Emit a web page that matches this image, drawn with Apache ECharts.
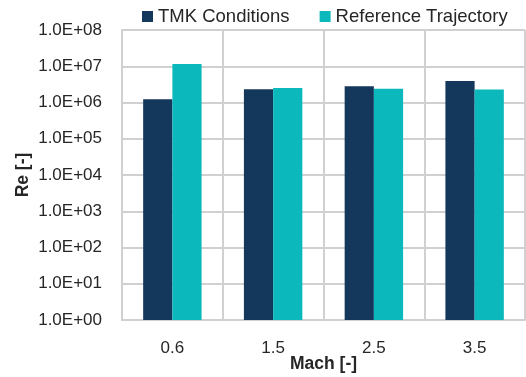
<!DOCTYPE html>
<html>
<head>
<meta charset="utf-8">
<style>
  html, body { margin: 0; padding: 0; background: #ffffff; }
  #chart { width: 526px; height: 377px; }
</style>
<script src="https://cdn.jsdelivr.net/npm/echarts@6/dist/echarts.min.js"></script>
</head>
<body>
<div id="chart"></div>
<script>
// Mach numbers of the test points
const machCategories = ['0.6', '1.5', '2.5', '3.5'];
// Reynolds numbers per Mach number
const tmkConditions = [1.22e6, 2.31e6, 2.8e6, 3.92e6];
const referenceTrajectory = [1.15e7, 2.5e6, 2.4e6, 2.3e6];
// Decade tick labels of the logarithmic Re axis (index = exponent)
const reTickLabels = ['1.0E+00', '1.0E+01', '1.0E+02', '1.0E+03', '1.0E+04',
                      '1.0E+05', '1.0E+06', '1.0E+07', '1.0E+08'];

const FONT = 'Liberation Sans';
const TEXT = '#262626';
const GRID = '#d0d0d0';

const chart = echarts.init(document.getElementById('chart'), null, { renderer: 'canvas' });

chart.setOption({
  backgroundColor: '#ffffff',
  animation: false,
  textStyle: { fontFamily: FONT, color: TEXT },
  legend: {
    top: 2,
    left: 137,
    itemWidth: 11,
    itemHeight: 11,
    itemGap: 30,
    icon: 'rect',
    textStyle: { fontFamily: FONT, fontSize: 18.5, color: TEXT, padding: [0, 0, 0, 0] },
    data: ['TMK Conditions', 'Reference Trajectory']
  },
  grid: { left: 122, right: 1, top: 30, bottom: 57, outerBoundsMode: 'none', containLabel: false },
  xAxis: {
    type: 'category',
    data: machCategories,
    name: 'Mach [-]',
    nameLocation: 'middle',
    nameGap: 35,
    nameMoveOverlap: false,
    nameTextStyle: { fontFamily: FONT, fontSize: 17.5, fontWeight: 'bold', color: TEXT },
    axisLine: { show: true, lineStyle: { color: GRID, width: 2 } },
    axisTick: { show: false },
    axisLabel: { fontFamily: FONT, fontSize: 17, color: TEXT, margin: 20 },
    splitLine: { show: true, lineStyle: { color: GRID, width: 2 } }
  },
  yAxis: {
    type: 'log',
    logBase: 10,
    min: 1,
    max: 1e8,
    name: 'Re [-]',
    nameLocation: 'middle',
    nameRotate: 90,
    nameGap: 90,
    nameMoveOverlap: false,
    nameTextStyle: { fontFamily: FONT, fontSize: 17.5, fontWeight: 'bold', color: TEXT },
    axisLine: { show: true, lineStyle: { color: GRID, width: 2 } },
    axisTick: { show: false },
    axisLabel: {
      fontFamily: FONT, fontSize: 17, color: TEXT, margin: 20,
      formatter: v => reTickLabels[Math.round(Math.log10(v))]
    },
    splitLine: { show: true, lineStyle: { color: GRID, width: 2 } }
  },
  series: [
    {
      name: 'TMK Conditions',
      type: 'bar',
      data: tmkConditions,
      itemStyle: { color: '#14375c' },
      barGap: '0%',
      barCategoryGap: '42%'
    },
    {
      name: 'Reference Trajectory',
      type: 'bar',
      data: referenceTrajectory,
      itemStyle: { color: '#0bb9bd' },
      barGap: '0%',
      barCategoryGap: '42%'
    }
  ]
});
</script>
</body>
</html>
